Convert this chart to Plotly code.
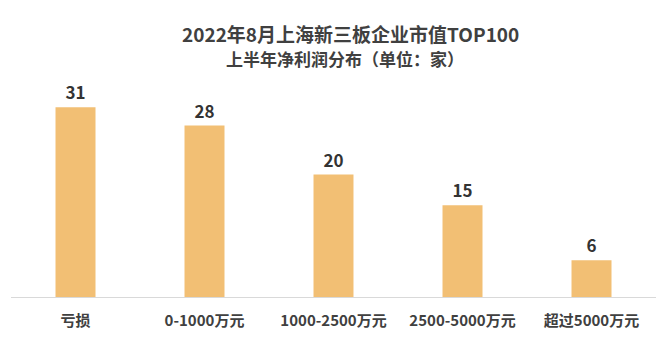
import plotly.graph_objects as go

categories = ["亏损", "0-1000万元", "1000-2500万元", "2500-5000万元", "超过5000万元"]
values = [31, 28, 20, 15, 6]
title_line1 = "2022年8月上海新三板企业市值TOP100"
title_line2 = "上半年净利润分布（单位：家）"

FONT = "Noto Sans CJK SC"

fig = go.Figure()
fig.add_trace(go.Bar(
    x=categories, y=values,
    marker=dict(color="#F2BF74", line=dict(width=0)),
    width=0.31,
    text=[str(v) for v in values],
    textposition="outside",
    textfont=dict(family=FONT, size=17, color="#333333", weight="bold"),
    cliponaxis=False,
))

fig.add_annotation(text="<b>%s</b>" % title_line1, xref="paper", yref="paper",
                   x=0.526, y=1.11, xanchor="center", yanchor="middle", showarrow=False,
                   font=dict(family=FONT, size=19, color="#404040"))
fig.add_annotation(text="<b>%s</b>" % title_line2, xref="paper", yref="paper",
                   x=0.518, y=1.008, xanchor="center", yanchor="middle", showarrow=False,
                   font=dict(family=FONT, size=17, color="#404040"))

fig.update_layout(
    width=664, height=339,
    margin=dict(l=11, r=8, t=60, b=42),
    plot_bgcolor="white", paper_bgcolor="white",
    showlegend=False,
    xaxis=dict(
        showline=True, linecolor="#D9D9D9", linewidth=1,
        ticks="", tickfont=dict(family=FONT, size=15, color="#404040", weight="bold"),
        ticklabelstandoff=10,
        fixedrange=True,
    ),
    yaxis=dict(range=[0, 38.7], visible=False, showgrid=False, zeroline=False),
    bargap=0.69,
)

fig.write_html("out.html")
